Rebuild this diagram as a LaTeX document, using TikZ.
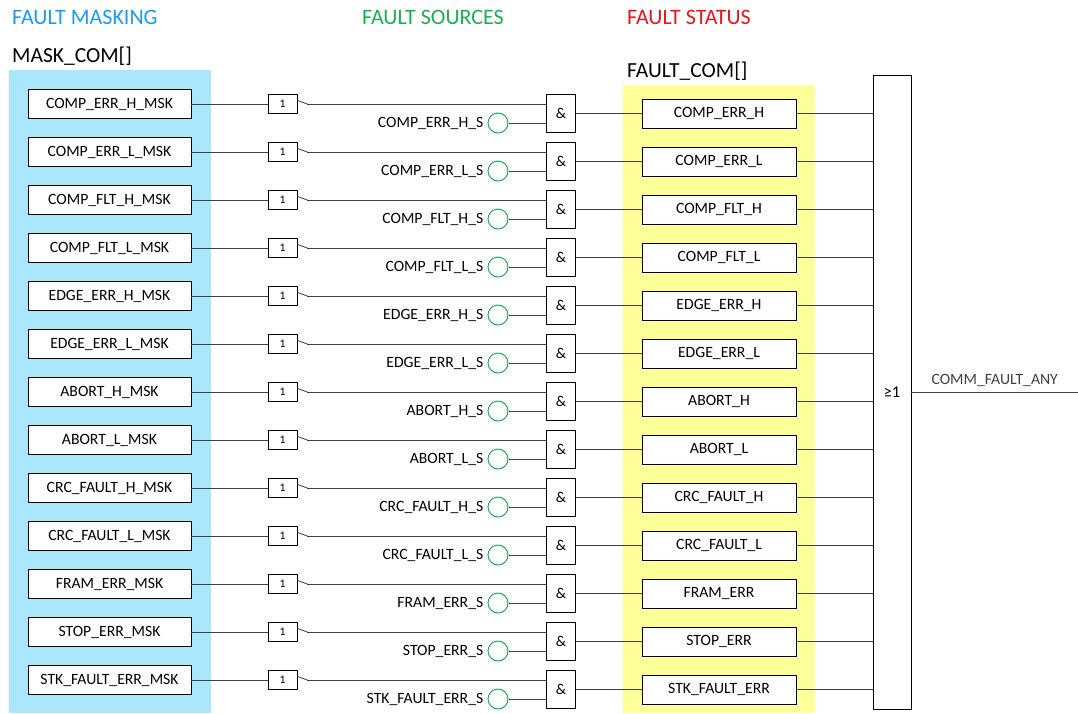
\documentclass[tikz,border=0pt]{standalone}
\usepackage{fontspec}
\setmainfont{Carlito}
\usetikzlibrary{positioning}

\definecolor{maskfill}{RGB}{170,230,252}
\definecolor{statfill}{RGB}{255,255,153}
\definecolor{maskblue}{RGB}{28,154,240}
\definecolor{srcgreen}{RGB}{24,176,80}
\definecolor{statred}{RGB}{236,20,28}

\begin{document}
\begin{tikzpicture}[x=1pt, y=-1pt]

\tikzset{wire/.style={black!75, line width=0.8pt}}
\tikzset{drawbox/.style={draw, rectangle, fill=white, line width=0.8pt, inner sep=0pt, font=\fontsize{15.7}{18}\selectfont}}
\tikzset{maskbox/.style={drawbox, minimum height=29pt, minimum width=163pt}}
\tikzset{statbox/.style={drawbox, minimum height=29pt, minimum width=154pt}}
\tikzset{onebox/.style={drawbox, minimum height=19pt, minimum width=29pt, font=\fontsize{11.5}{13}\selectfont}}
\tikzset{gatebox/.style={drawbox, minimum height=38pt, minimum width=29pt, font=\fontsize{15}{17}\selectfont}}
\tikzset{srcdot/.style={draw=srcgreen, circle, fill=white, line width=1pt, minimum size=20pt, inner sep=0pt}}
\tikzset{srclabel/.style={inner sep=2pt, font=\fontsize{15.7}{18}\selectfont}}
\tikzset{title/.style={anchor=west, inner sep=0pt, font=\fontsize{22}{25}\selectfont}}

\useasboundingbox (0,0) rectangle (1078,713);

% mask and status columns
\fill[maskfill] (9,70) rectangle (211,713);
\fill[statfill] (623,85) rectangle (815,713);

% figure titles
\node[title, text=maskblue] at (12,17) (ttlmask) {FAULT MASKING};
\node[title, text=srcgreen] at (362,17) (ttlsrc) {FAULT SOURCES};
\node[title, text=statred] at (627,17) (ttlstat) {FAULT STATUS};
\node[title, font=\fontsize{21.5}{24}\selectfont] at (12,56) (maskreg) {MASK\_COM[]};
\node[title, font=\fontsize{21.5}{24}\selectfont] at (627,71) (statreg) {FAULT\_COM[]};

% or gate and its output
\node[drawbox, minimum width=38pt, minimum height=634pt, font=\fontsize{16.5}{19}\selectfont] at (892,392) (orgate) {≥1};
\coordinate (anyout) at (1078,392);
\draw[wire] (orgate) -- (anyout) node[midway, above=2pt, font=\fontsize{15.7}{18}\selectfont] {COMM\_FAULT\_ANY};

% one row per fault
\foreach \name [count=\i from 0] in {COMP\_ERR\_H, COMP\_ERR\_L, COMP\_FLT\_H, COMP\_FLT\_L,
    EDGE\_ERR\_H, EDGE\_ERR\_L, ABORT\_H, ABORT\_L, CRC\_FAULT\_H, CRC\_FAULT\_L,
    FRAM\_ERR, STOP\_ERR, STK\_FAULT\_ERR} {
  \pgfmathsetmacro\ry{104+48*\i}
  \node[maskbox] at (109.5,\ry) (msk\i) {\name\_MSK};
  \node[onebox] at (282.5,\ry) (inv\i) {1};
  \node[gatebox] at (561,\ry+9.5) (and\i) {\&};
  \node[srcdot] at (498,\ry+19) (src\i) {};
  \node[srclabel, left=2pt of src\i] (srctxt\i) {\name\_S};
  \node[statbox] at (719,\ry+9.5) (st\i) {\name};
  \draw[wire] (msk\i) -- (inv\i);
  \draw[wire] (inv\i.east) ++(0,-3.5) -- ++(10,3.5);
  \draw[wire] ([xshift=10pt]inv\i.east) -- (and\i.west |- inv\i);
  \draw[wire] (src\i) -- (and\i.west |- src\i);
  \draw[wire] (and\i) -- (st\i);
  \draw[wire] (st\i) -- (orgate.west |- st\i);
}

\end{tikzpicture}
\end{document}
